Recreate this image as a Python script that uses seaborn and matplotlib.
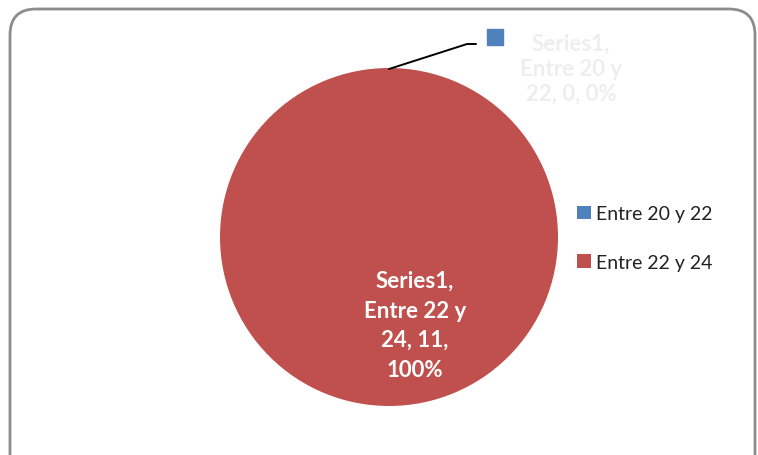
import textwrap
import matplotlib
matplotlib.use("Agg")
import matplotlib.pyplot as plt
from matplotlib.patches import FancyBboxPatch, Patch
import seaborn as sns

# Age ranges and counts for the single series
categories = ["Entre 20 y 22", "Entre 22 y 24"]
values = [0, 11]
series_name = "Series1"
colors = ["#4F81BD", "#C0504D"]

sns.set_theme(style="white")
plt.rcParams["font.family"] = ["Lato", "DejaVu Sans"]

W, H = 758, 456
fig = plt.figure(figsize=(W / 100, H / 100), dpi=100)
fig.patch.set_facecolor("white")

# Rounded outer frame of the chart area
frame = FancyBboxPatch((10, -30), 745, 476,
                       boxstyle="round,pad=0,rounding_size=26",
                       transform=None, facecolor="none",
                       edgecolor="#8c8c8c", linewidth=2.0, zorder=-1)
fig.patches.append(frame)

# Pie axes
cx, cy, r = 389, 238, 169
ax = fig.add_axes([(cx - r) / W, (H - cy - r) / H, 2 * r / W, 2 * r / H])
wedges, _ = ax.pie(values, colors=colors, startangle=90, counterclock=False,
                   radius=1.0, wedgeprops=dict(edgecolor="none"))
ax.set_xlim(-1, 1)
ax.set_ylim(-1, 1)
ax.set_aspect("equal")
ax.axis("off")

total = sum(values)
labels = []
for cat, v in zip(categories, values):
    pct = round(100 * v / total)
    labels.append("\n".join(textwrap.wrap(f"{series_name}, {cat}, {v}, {pct}%", 10)))

# Label for the empty slice, with leader line and colour key
ax.plot([0, 0.462, 0.515], [0.994, 1.142, 1.142], color="black",
        lw=1.4, clip_on=False, zorder=3)
ax.scatter([0.627], [1.183], marker="s", s=120, color=colors[0],
           clip_on=False, zorder=3)
ax.text(1.077, 1.0, labels[0], ha="center", va="center", fontsize=16,
        fontweight="bold", color="#eeeeee", linespacing=1.25, clip_on=False)

# Label inside the full slice
ax.text(0.154, -0.52, labels[1], ha="center", va="center", fontsize=16,
        fontweight="bold", color="white", linespacing=1.5)

handles = [Patch(facecolor=c, edgecolor="none") for c in colors]
fig.legend(handles, categories, loc="center left",
           bbox_to_anchor=(577 / W, 217 / H), frameon=False,
           fontsize=14, handlelength=0.7, handleheight=0.7,
           handletextpad=0.3, labelspacing=1.6, borderpad=0,
           borderaxespad=0, labelcolor="#222222")

fig.savefig("out.png", dpi=100, facecolor="white")
